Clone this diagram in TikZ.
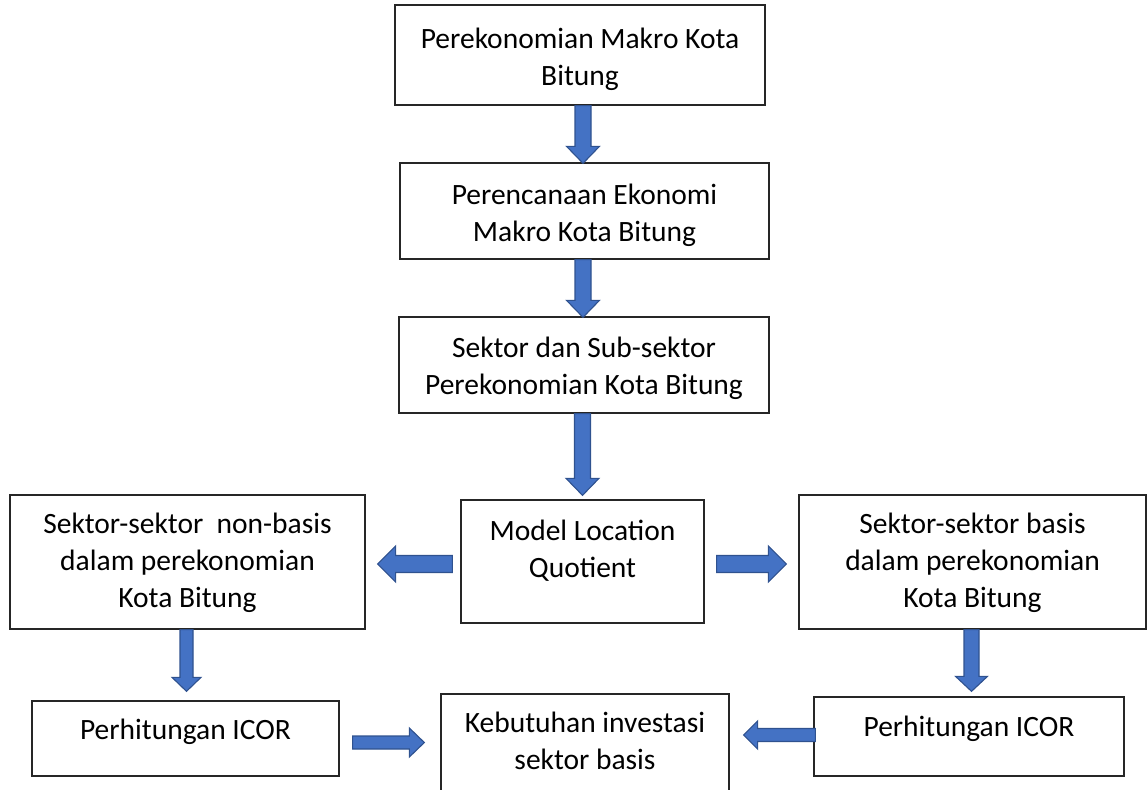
\documentclass[tikz,border=0pt]{standalone}
\usepackage{fontspec}
\setmainfont{Carlito}
\usetikzlibrary{calc}
\definecolor{afill}{HTML}{4472C4}
\definecolor{aedge}{HTML}{2F528F}
\definecolor{bline}{HTML}{262626}
\tikzset{
 box/.style={draw=bline, line width=1.3pt, fill=white, inner sep=0pt},
 txt/.style={align=center, font=\fontsize{29.5}{37}\selectfont, inner sep=0pt},
 barrow/.style={draw=aedge, fill=afill, line width=1.1pt, line join=miter},
}
% start, end, shaft half width, head half width, head length
\newcommand\barrowdown[5]{%
 \draw[barrow] let \p1=(#1),\p2=(#2) in (\x1-#3pt,\y1) -- (\x1-#3pt,\y2+#5pt) -- (\x1-#4pt,\y2+#5pt) -- (\x1,\y2) -- (\x1+#4pt,\y2+#5pt) -- (\x1+#3pt,\y2+#5pt) -- (\x1+#3pt,\y1) -- cycle;}
\newcommand\barrowright[5]{%
 \draw[barrow] let \p1=(#1),\p2=(#2) in (\x1,\y1+#3pt) -- (\x2-#5pt,\y1+#3pt) -- (\x2-#5pt,\y1+#4pt) -- (\x2,\y1) -- (\x2-#5pt,\y1-#4pt) -- (\x2-#5pt,\y1-#3pt) -- (\x1,\y1-#3pt) -- cycle;}
\newcommand\barrowleft[5]{%
 \draw[barrow] let \p1=(#1),\p2=(#2) in (\x1,\y1+#3pt) -- (\x2+#5pt,\y1+#3pt) -- (\x2+#5pt,\y1+#4pt) -- (\x2,\y1) -- (\x2+#5pt,\y1-#4pt) -- (\x2+#5pt,\y1-#3pt) -- (\x1,\y1-#3pt) -- cycle;}
\begin{document}
\begin{tikzpicture}[x=1pt,y=-1pt]
\useasboundingbox (0,0) rectangle (1147,789);
% boxes
\node[box, minimum width=370pt, minimum height=100pt] (b1) at (580,55) {};
\node[box, minimum width=369pt, minimum height=96pt] (b2) at (584.5,211) {};
\node[box, minimum width=370pt, minimum height=96pt] (b3) at (584,365) {};
\node[box, minimum width=243pt, minimum height=123pt] (lq) at (582.5,561.5) {};
\node[box, minimum width=355pt, minimum height=134pt] (nb) at (187.5,562) {};
\node[box, minimum width=347pt, minimum height=134pt] (bs) at (972.5,562) {};
\node[box, minimum width=307pt, minimum height=75pt] (il) at (185.5,738.5) {};
\node[box, minimum width=310pt, minimum height=79pt] (ir) at (969,736.5) {};
\node[box, minimum width=288pt, minimum height=110pt] (kb) at (585,749) {};
% texts
\node[txt] (t1) at ($(b1)+(0,4)$) {Perekonomian Makro Kota\\Bitung};
\node[txt] (t2) at ($(b2)+(0,4)$) {Perencanaan Ekonomi\\Makro Kota Bitung};
\node[txt] (t3) at ($(b3)+(0,3)$) {Sektor dan Sub-sektor\\Perekonomian Kota Bitung};
\node[txt] (tlq) at ($(lq)+(0,-10.5)$) {Model Location\\Quotient};
\node[txt] (tnb) at ($(nb)+(0,1)$) {Sektor-sektor\ \ non-basis\\dalam perekonomian\\Kota Bitung};
\node[txt] (tbs) at ($(bs)+(0,1)$) {Sektor-sektor basis\\dalam perekonomian\\Kota Bitung};
\node[txt] (til) at ($(il)+(0,-7)$) {Perhitungan ICOR};
\node[txt] (tir) at ($(ir)+(0,-8)$) {Perhitungan ICOR};
\node[txt] (tkb) at ($(kb.north)+(0,48)$) {Kebutuhan investasi\\sektor basis};
% block arrows
\barrowdown{$(b1.south)+(3,0)$}{$(b2.north)+(0,1)$}{8}{16.5}{17}
\barrowdown{$(b2.south)+(-1.5,0)$}{$(b3.north)+(0,1)$}{8}{16.5}{17}
\barrowdown{$(b3.south)+(-1.5,0)$}{$(lq.north)+(0,-4)$}{8}{16.5}{17}
\barrowleft{$(lq.west)+(-8,2.5)$}{$(nb.east)+(12,0)$}{8.5}{18}{18}
\barrowright{$(lq.east)+(12,2.5)$}{$(bs.west)+(-12,0)$}{8.5}{18}{18}
\barrowdown{$(nb.south)+(-1,0)$}{$(il.north)+(0,-9)$}{6.5}{14.5}{14}
\barrowdown{$(bs.south)+(-1,0)$}{$(ir.north)+(0,-5)$}{7.5}{16}{15}
\barrowright{$(il.east)+(13,4)$}{$(kb.west)+(-16,0)$}{6.5}{14.5}{15}
\barrowleft{$(ir.west)+(2,-1.5)$}{$(kb.east)+(14,0)$}{6.5}{14}{14}
\end{tikzpicture}
\end{document}
